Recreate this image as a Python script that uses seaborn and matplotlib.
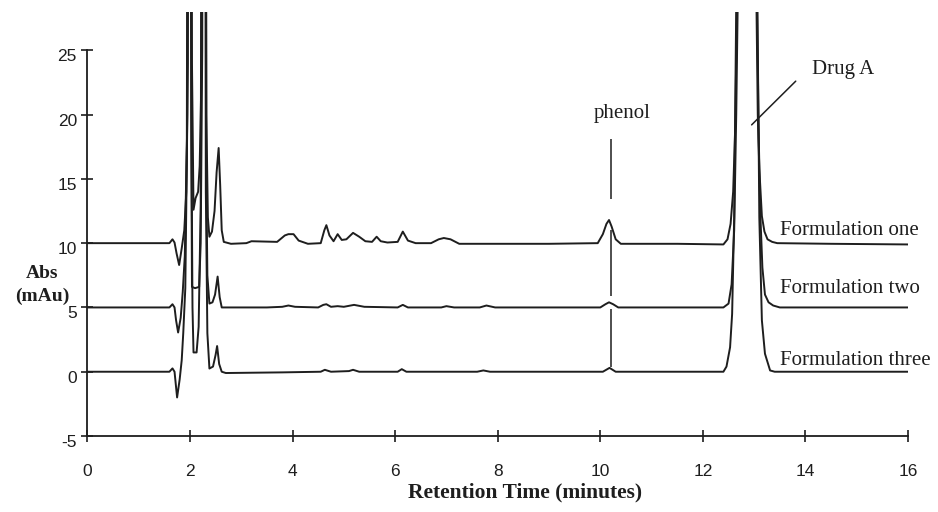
import matplotlib
matplotlib.use("Agg")
import matplotlib.pyplot as plt
import matplotlib.transforms as mtransforms
import numpy as np
import pandas as pd
import seaborn as sns

# ---------------- data ----------------
formulations = ["Formulation one", "Formulation two", "Formulation three"]

f1_time = [0.00, 1.60, 1.66, 1.70, 1.74, 1.79, 1.84, 1.89, 1.93, 1.96,
           2.00, 2.04, 2.07, 2.11, 2.16, 2.19, 2.22, 2.28, 2.32, 2.35,
           2.38, 2.43, 2.48, 2.52, 2.56, 2.59, 2.62, 2.66, 2.80, 3.10,
           3.20, 3.70, 3.85, 3.92, 4.02, 4.12, 4.30, 4.55, 4.62, 4.66,
           4.72, 4.80, 4.88, 4.96, 5.05, 5.18, 5.30, 5.42, 5.55, 5.64,
           5.72, 5.85, 6.05, 6.15, 6.25, 6.40, 6.70, 6.85, 6.95, 7.08,
           7.25, 8.00, 9.00, 9.95, 10.05, 10.12, 10.17, 10.22, 10.30, 10.40,
           11.50, 12.40, 12.48, 12.54, 12.59, 12.63, 12.67, 12.85, 13.04, 13.07,
           13.10, 13.15, 13.20, 13.26, 13.35, 13.45, 14.50, 16.00]
f1_abs = [10.0, 10.0, 10.3, 10.05, 9.2, 8.3, 9.6, 11.0, 14.0, 24.0,
          120.0, 24.0, 12.6, 13.5, 14.0, 16.0, 22.0, 120.0, 20.0, 12.0,
          10.5, 10.9, 12.5, 15.5, 17.4, 14.5, 11.0, 10.1, 9.95, 10.0,
          10.15, 10.1, 10.6, 10.7, 10.7, 10.2, 9.95, 10.0, 11.0, 11.4,
          10.6, 10.15, 10.7, 10.25, 10.3, 10.8, 10.5, 10.15, 10.1, 10.5,
          10.15, 10.05, 10.1, 10.9, 10.2, 10.0, 10.0, 10.3, 10.4, 10.3,
          9.95, 9.95, 9.95, 10.0, 10.7, 11.5, 11.8, 11.3, 10.3, 9.95,
          9.95, 9.9, 10.3, 11.5, 14.0, 19.0, 30.0, 250.0, 30.0, 20.0,
          15.8, 12.1, 10.9, 10.3, 10.1, 10.0, 9.95, 9.9]

f2_time = [0.00, 1.60, 1.66, 1.70, 1.73, 1.77, 1.82, 1.86, 1.90, 1.94,
           1.985, 2.025, 2.04, 2.10, 2.18, 2.21, 2.24, 2.285, 2.32, 2.34,
           2.38, 2.44, 2.49, 2.54, 2.58, 2.62, 2.70, 3.50, 3.80, 3.92,
           4.05, 4.50, 4.60, 4.66, 4.75, 4.88, 5.00, 5.20, 5.40, 6.05,
           6.15, 6.25, 6.90, 7.00, 7.15, 7.65, 7.78, 7.95, 10.00, 10.10,
           10.17, 10.25, 10.35, 12.40, 12.50, 12.56, 12.61, 12.65, 12.69, 12.85,
           13.05, 13.09, 13.12, 13.16, 13.21, 13.28, 13.37, 13.50, 16.00]
f2_abs = [5.0, 5.0, 5.25, 5.0, 4.0, 3.05, 4.2, 6.2, 9.0, 18.0,
          120.0, 20.0, 6.6, 6.5, 6.6, 10.0, 25.0, 120.0, 15.0, 7.5,
          5.3, 5.4, 6.0, 7.4, 5.8, 5.0, 5.0, 5.0, 5.05, 5.15,
          5.05, 5.0, 5.2, 5.25, 5.05, 5.1, 5.05, 5.2, 5.05, 5.0,
          5.2, 5.0, 5.0, 5.1, 5.0, 5.0, 5.15, 5.0, 5.0, 5.25,
          5.4, 5.25, 5.0, 5.0, 5.3, 6.8, 11.0, 20.0, 32.0, 250.0,
          30.0, 18.0, 12.2, 8.1, 6.0, 5.4, 5.15, 5.0, 5.0]

f3_time = [0.00, 1.60, 1.66, 1.70, 1.75, 1.80, 1.84, 1.87, 1.91, 1.95,
           1.99, 2.03, 2.05, 2.07, 2.13, 2.17, 2.21, 2.27, 2.31, 2.34,
           2.38, 2.45, 2.50, 2.53, 2.57, 2.62, 2.70, 3.80, 4.55, 4.63,
           4.75, 5.10, 5.18, 5.30, 6.05, 6.13, 6.22, 7.60, 7.72, 7.85,
           10.05, 10.18, 10.30, 12.40, 12.46, 12.53, 12.57, 12.61, 12.65, 12.85,
           13.06, 13.10, 13.15, 13.21, 13.31, 13.40, 16.00]
f3_abs = [0.0, 0.0, 0.26, 0.0, -2.0, -0.6, 0.9, 3.0, 6.5, 20.0,
          120.0, 18.0, 5.0, 1.5, 1.5, 3.5, 13.0, 120.0, 14.0, 3.0,
          0.25, 0.4, 1.3, 2.0, 0.6, 0.0, -0.1, -0.05, 0.0, 0.15,
          0.0, 0.05, 0.15, 0.0, 0.0, 0.2, 0.0, 0.0, 0.1, 0.0,
          0.0, 0.3, 0.0, 0.0, 0.4, 1.9, 4.5, 12.0, 28.5, 250.0,
          30.0, 12.0, 4.0, 1.4, 0.1, 0.0, 0.0]

x_ticks = [0, 2, 4, 6, 8, 10, 12, 14, 16]
y_ticks = [-5, 0, 5, 10, 15, 20, 25]

# annotation values
label_pos = [(13.5, 11.0), (13.5, 6.5), (13.5, 0.9)]
phenol_time = 10.2
phenol_lows = [13.4, 5.9, 0.4]
phenol_highs = [18.1, 11.0, 4.9]
phenol_label_pos = (10.42, 20.1)
drug_line_x = [13.81, 12.95]
drug_line_y = [22.6, 19.2]
drug_label_pos = (14.12, 23.5)

# ---------------- build table ----------------
frames = []
for name, t, v in zip(formulations, [f1_time, f2_time, f3_time], [f1_abs, f2_abs, f3_abs]):
    frames.append(pd.DataFrame({"time": t, "abs": v, "formulation": name}))
df = pd.concat(frames, ignore_index=True)

# ---------------- plot ----------------
sns.set_style("white")
plt.rcParams["font.family"] = ["Liberation Sans", "DejaVu Sans"]

ink = "#1e1e1e"
fig = plt.figure(figsize=(9.38, 5.12), dpi=100)
ax = fig.add_axes([0.0931, 0.1484, 0.875, 0.8287])

sns.lineplot(data=df, x="time", y="abs", units="formulation", estimator=None,
             color=ink, linewidth=1.4, sort=False, legend=False, ax=ax)

ax.set_xlim(0, 16)
ax.set_ylim(-5, 28.0)
ax.set_xticks(x_ticks)
ax.set_yticks(y_ticks)
ax.set_xticklabels([str(v) for v in x_ticks])
ax.set_yticklabels([str(v) for v in y_ticks])
ax.set_xlabel("")
ax.set_ylabel("")

for s in ["top", "right"]:
    ax.spines[s].set_visible(False)
ax.spines["left"].set_bounds(-5, 25)
ax.spines["bottom"].set_bounds(0, 16)
for s in ["left", "bottom"]:
    ax.spines[s].set_color(ink)
    ax.spines[s].set_linewidth(1.3)

ax.tick_params(axis="x", bottom=True, direction="inout", length=9, width=1.2, color=ink,
               labelsize=12.5, pad=16, labelcolor=ink)
ax.tick_params(axis="y", left=True, direction="inout", length=9, width=1.2, color=ink,
               labelsize=12.5, pad=3, labelcolor=ink)
offset = mtransforms.ScaledTranslation(0, -5 / 100, fig.dpi_scale_trans)
for lab in ax.get_yticklabels():
    lab.set_transform(lab.get_transform() + offset)

serif = ["Liberation Serif", "DejaVu Serif"]
for name, (x, y) in zip(formulations, label_pos):
    ax.text(x, y, name, family=serif, fontsize=15, color=ink, ha="left", va="center")

ax.vlines([phenol_time] * len(phenol_lows), phenol_lows, phenol_highs, color=ink, linewidth=1.1)
ax.text(phenol_label_pos[0], phenol_label_pos[1], "phenol", family=serif, fontsize=15,
        color=ink, ha="center", va="center")
ax.plot(drug_line_x, drug_line_y, color=ink, linewidth=1.1)
ax.text(drug_label_pos[0], drug_label_pos[1], "Drug A", family=serif, fontsize=15,
        color=ink, ha="left", va="center")

fig.text(42 / 938, 1 - 285 / 512, "Abs\n(mAu)", family=serif, fontweight="bold",
         fontsize=14, color=ink, ha="center", va="center", multialignment="center",
         linespacing=1.45)
fig.text(525 / 938, 1 - 492 / 512, "Retention Time (minutes)", family=serif,
         fontweight="bold", fontsize=15.5, color=ink, ha="center", va="center")

fig.savefig("out.png", dpi=100, facecolor="white")
